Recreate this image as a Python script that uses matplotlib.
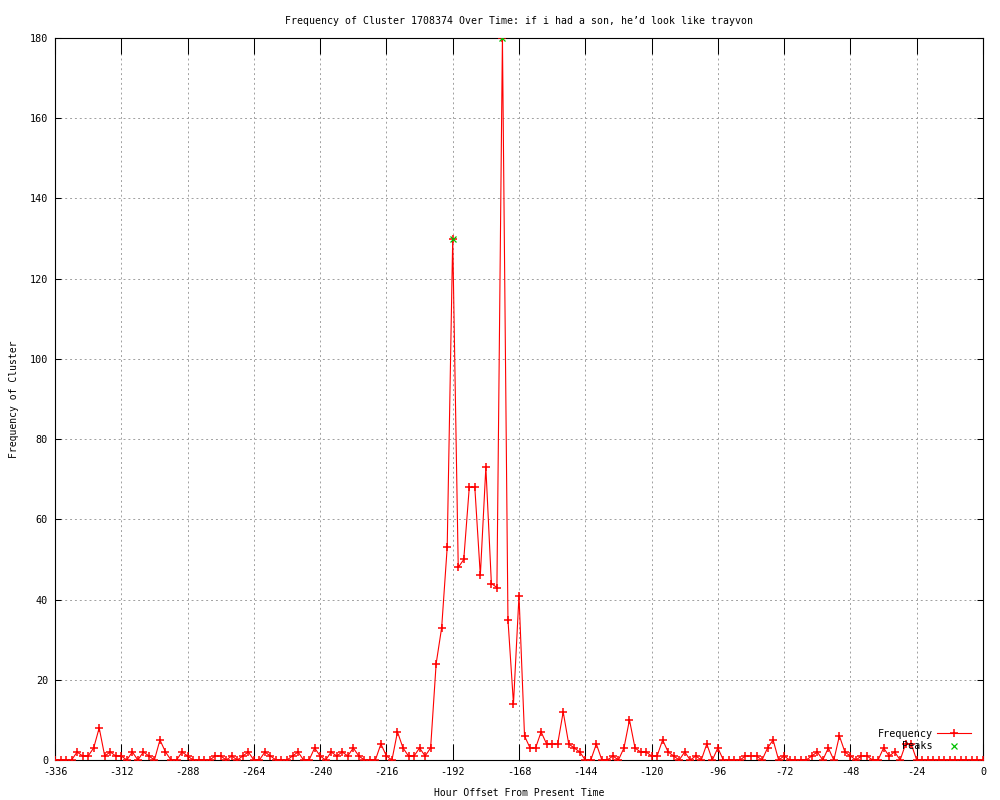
import numpy as np
import matplotlib
matplotlib.use("Agg")
import matplotlib.pyplot as plt

# two-hour bins, hours before present
hours = np.arange(-336, 1, 2)
freq = [
    0, 0, 0, 0, 2, 1, 1, 3, 8, 1,          # -336 .. -318
    2, 1, 1, 0, 2, 0, 2, 1, 0, 5,          # -316 .. -298
    2, 0, 0, 2, 1, 0, 0, 0, 0, 1,          # -296 .. -278
    1, 0, 1, 0, 1, 2, 0, 0, 2, 1,          # -276 .. -258
    0, 0, 0, 1, 2, 0, 0, 3, 1, 0,          # -256 .. -238
    2, 1, 2, 1, 3, 1, 0, 0, 0, 4,          # -236 .. -218
    1, 0, 7, 3, 1, 1, 3, 1, 3, 24,         # -216 .. -198
    33, 53, 130, 48, 50, 68, 68, 46, 73, 44,  # -196 .. -178
    43, 180, 35, 14, 41, 6, 3, 3, 7, 4,    # -176 .. -158
    4, 4, 12, 4, 3, 2, 0, 0, 4, 0,         # -156 .. -138
    0, 1, 0, 3, 10, 3, 2, 2, 1, 1,         # -136 .. -118
    5, 2, 1, 0, 2, 0, 1, 0, 4, 0,          # -116 .. -98
    3, 0, 0, 0, 0, 1, 1, 1, 0, 3,          # -96 .. -78
    5, 0, 1, 0, 0, 0, 0, 1, 2, 0,          # -76 .. -58
    3, 0, 6, 2, 1, 0, 1, 1, 0, 0,          # -56 .. -38
    3, 1, 2, 0, 4, 4, 0, 0, 0, 0,          # -36 .. -18
    0, 0, 0, 0, 0, 0, 0, 0, 0,             # -16 .. 0
]
peak_hours = [-192, -174]
peak_freq = [130, 180]

title = "Frequency of Cluster 1708374 Over Time: if i had a son, he\u2019d look like trayvon"

FS = 7.0
plt.rcParams["font.family"] = ["DejaVu Sans Mono"]
plt.rcParams["font.size"] = FS
plt.rcParams["axes.unicode_minus"] = False

fig = plt.figure(figsize=(10, 8), dpi=100)
ax = fig.add_axes([0.055, 0.05, 0.928, 0.9025])

ax.plot(hours, freq, color="#ff0000", lw=0.8, marker="+", ms=5.5, mew=1.1,
        label="Frequency", zorder=3)
ax.plot(peak_hours, peak_freq, ls="none", color="#00c000", marker="x", ms=5,
        mew=0.9, label="Peaks", zorder=4)

ax.set_xlim(-336, 0)
ax.set_ylim(0, 180)
ax.set_xticks(np.arange(-336, 1, 24))
ax.set_yticks(np.arange(0, 181, 20))

ax.grid(True, color="#a0a0a0", ls=(0, (2, 3)), lw=0.7)
ax.tick_params(axis="x", direction="in", length=11.5, width=0.75,
               top=True, pad=5, labelsize=FS + 0.3)
ax.tick_params(axis="y", direction="in", length=4.5, width=0.75,
               right=True, pad=5, labelsize=FS + 0.3)
for s in ax.spines.values():
    s.set_linewidth(0.8)

ax.set_title(title, pad=10, fontsize=FS + 0.1)
ax.set_xlabel("Hour Offset From Present Time", labelpad=8, fontsize=FS)
ax.set_ylabel("Frequency of Cluster", labelpad=8, fontsize=FS)

ax.legend(loc="lower right", bbox_to_anchor=(0.995, 0.002), frameon=False,
          markerfirst=False, handlelength=3.4, handletextpad=0.4,
          labelspacing=0.25, borderaxespad=0.3, fontsize=FS + 0.3)

fig.savefig("out.png", dpi=100)
